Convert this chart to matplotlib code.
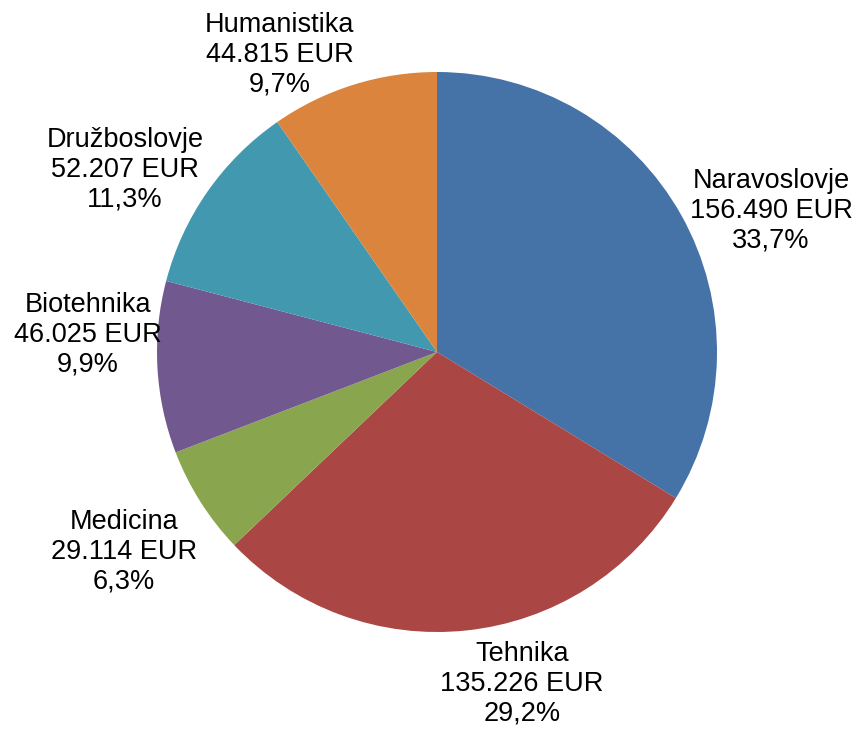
import matplotlib
matplotlib.use("Agg")
import matplotlib.pyplot as plt

plt.rcParams['font.family'] = ['Liberation Sans', 'DejaVu Sans']

categories = ['Naravoslovje', 'Tehnika', 'Medicina', 'Biotehnika', 'Družboslovje', 'Humanistika']
values = [156490, 135226, 29114, 46025, 52207, 44815]
colors = ['#4572A7', '#AA4643', '#89A54E', '#71588F', '#4198AF', '#DB843D']

# label block centres in data units (pie radius = 1)
label_pos = [(1.193, 0.504), (0.304, -1.185), (-1.118, -0.714),
             (-1.246, 0.061), (-1.114, 0.650), (-0.561, 1.061)]

W, H = 855, 729
fig = plt.figure(figsize=(W / 100, H / 100), dpi=100)
cx, cy, r = 437, 352, 280
ax = fig.add_axes([(cx - r) / W, (H - cy - r) / H, 2 * r / W, 2 * r / H])

ax.pie(values, colors=colors, startangle=90, counterclock=False,
       wedgeprops=dict(linewidth=0))
ax.set_xlim(-1, 1)
ax.set_ylim(-1, 1)

total = sum(values)
for name, v, (x, y) in zip(categories, values, label_pos):
    # Slovene formatting: dot for thousands, comma for decimals
    pct = f"{v / total * 100:.1f}".replace('.', ',')
    txt = f"{name}\n{v:,}".replace(',', '.') + f" EUR\n{pct}%"
    ax.text(x, y, txt, ha='center', va='center', fontsize=19.5,
            linespacing=1.18, color='black')

fig.savefig('out.png', dpi=100)
